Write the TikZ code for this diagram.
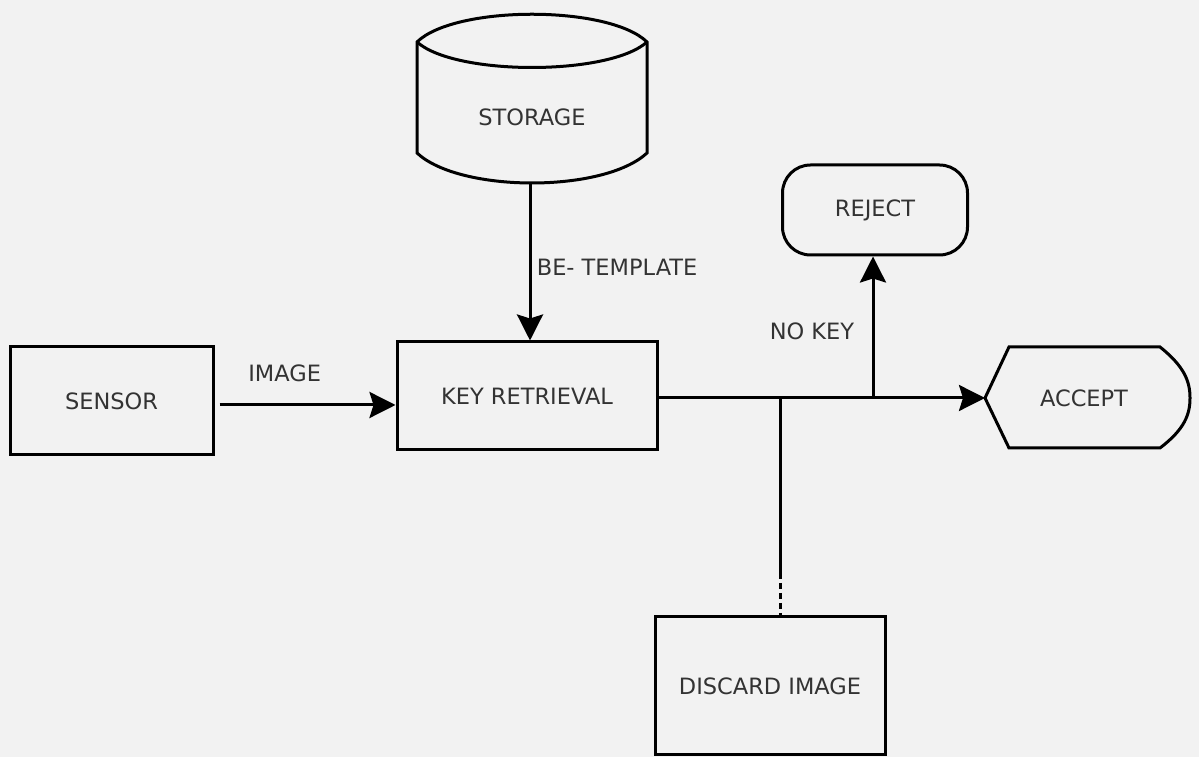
\documentclass[tikz,border=0pt]{standalone}
\usepackage{fontspec}
\setmainfont{DejaVu Sans}
\usetikzlibrary{arrows.meta,positioning,calc}
\definecolor{inkgray}{HTML}{333333}
\definecolor{paper}{HTML}{F2F2F2}

\begin{document}
\begin{tikzpicture}[x=1pt,y=1pt,line width=3pt,font=\fontsize{22.5}{26}\selectfont,
  box/.style={draw,text=inkgray,minimum width=#1,minimum height=108},
  rejbox/.style={draw,text=inkgray,rounded corners=28pt,minimum width=185,minimum height=90},
  lbl/.style={text=inkgray},
  flow/.style={-{Stealth[length=26pt,width=26pt,inset=4pt]}},
  dotline/.style={dash pattern=on 6pt off 4pt}]
\fill[paper] (0,0) rectangle (1199,757);
\useasboundingbox (0,0) rectangle (1199,757);
\node[box=203] (sensor) at (111.5,356) {SENSOR};
\node[box=260] (keyret) at (527,361) {KEY RETRIEVAL};
\node[box=230,minimum height=138] (discard) at (770,71) {DISCARD IMAGE};
\node[rejbox] (reject) at (875,547) {REJECT};
\node[lbl] (storage) at (532,640) {STORAGE};
\draw (417,604) -- (417,715) .. controls (455,752) and (609,752) .. (647,715) -- (647,604) .. controls (604,564) and (460,564) .. (417,604) -- cycle;
\draw (417,715) .. controls (455,681) and (609,681) .. (647,715);
\node[lbl] (accept) at (1084,359) {ACCEPT};
\draw (985,359) -- (1009,410) -- (1160,410) .. controls (1185,390) and (1190,375) .. (1190,359) .. controls (1190,343) and (1185,328) .. (1160,309) -- (1009,309) -- cycle;
\coordinate (storbot) at (530,574);
\coordinate (accin) at (985,359);
\coordinate (tee) at (780,359);
\coordinate (brk) at (780,184);
\coordinate (nokey) at (873,359);
\draw[flow] ([xshift=5pt,yshift=-4pt]sensor.east) -- ([yshift=-4pt]sensor.east -| keyret.west) node[lbl,pos=.37,yshift=32pt] (imglbl) {IMAGE};
\draw[flow] (storbot) -- (storbot |- keyret.north) node[lbl,pos=.535,anchor=west,xshift=2pt] (tpllbl) {BE- TEMPLATE};
\draw[flow] (keyret.east |- accin) -- (accin);
\draw[flow] (nokey) -- (nokey |- reject.south) node[lbl,pos=.47,xshift=-61pt] (nklbl) {NO KEY};
\draw (tee) -- (brk);
\draw[dotline] (brk) -- (brk |- discard.north);
\end{tikzpicture}
\end{document}
